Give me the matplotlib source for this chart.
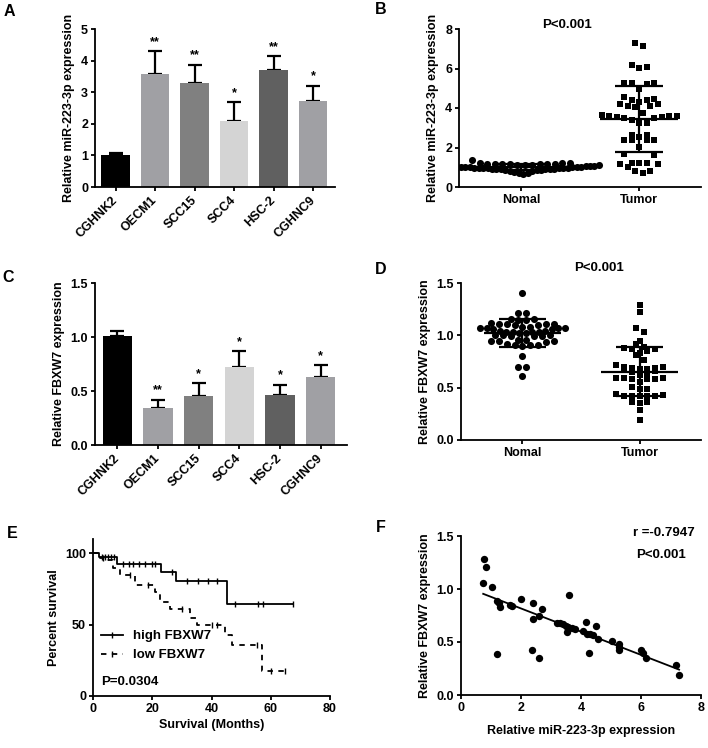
import numpy as np
import matplotlib
matplotlib.use("Agg")
import matplotlib.pyplot as plt
from matplotlib.lines import Line2D

# ---- data ----
cell_lines = ["CGHNK2", "OECM1", "SCC15", "SCC4", "HSC-2", "CGHNC9"]
bar_colors = ["#000000", "#a0a0a4", "#808080", "#d4d4d4", "#606060", "#a0a0a4"]
mir_mean = [1.02, 3.57, 3.29, 2.10, 3.70, 2.73]
mir_err = [0.05, 0.72, 0.58, 0.58, 0.44, 0.48]
mir_sig = ["", "**", "**", "*", "**", "*"]
fbx_mean = [1.01, 0.34, 0.45, 0.72, 0.46, 0.63]
fbx_err = [0.05, 0.08, 0.12, 0.15, 0.10, 0.11]
fbx_sig = ["", "**", "*", "*", "*", "*"]

groups = ["Nomal", "Tumor"]
mir_normal = [1.39, 1.21, 1.20, 1.19, 1.18, 1.18, 1.17, 1.16, 1.16, 1.15, 1.14, 1.13,
              1.12, 1.11, 1.10, 1.10, 1.08, 1.07, 1.06, 1.05, 1.05, 1.04, 1.03, 1.02,
              1.01, 1.00, 1.00, 0.99, 0.98, 0.97, 0.97, 0.96, 0.95, 0.95, 0.94, 0.93,
              0.92, 0.92, 0.91, 0.90, 0.89, 0.88, 0.87, 0.85, 0.83, 0.80, 0.77, 0.73,
              0.69, 0.65]
mir_tumor = [7.29, 7.15, 6.17, 6.03, 6.07, 5.29, 5.22, 4.95, 5.29, 5.29, 4.58, 4.20,
             4.40, 4.10, 4.40, 4.07, 4.32, 4.10, 4.46, 4.20, 3.64, 3.59, 3.56, 3.47,
             3.39, 3.76, 3.22, 3.25, 3.47, 3.56, 3.59, 3.59, 2.54, 2.37, 2.37, 2.63,
             2.37, 2.63, 2.37, 2.03, 1.61, 1.66, 1.15, 1.24, 1.24, 1.24, 1.02, 1.15,
             0.80, 0.73, 0.80]
fbx_normal = [1.40, 1.21, 1.21, 1.16, 1.16, 1.15, 1.15, 1.11, 1.11, 1.10, 1.11, 1.12,
              1.11, 1.10, 1.07, 1.07, 1.06, 1.08, 1.07, 1.06, 1.07, 1.08, 1.03, 1.03,
              1.02, 1.04, 1.03, 1.03, 1.02, 1.04, 0.99, 1.00, 0.99, 1.00, 0.99, 1.00,
              0.95, 0.96, 0.95, 0.94, 0.95, 0.96, 0.91, 0.91, 0.90, 0.92, 0.91, 0.80,
              0.70, 0.70, 0.61]
fbx_tumor = [1.29, 1.22, 1.07, 1.03, 0.95, 0.89, 0.87, 0.85, 0.83, 0.81, 0.88, 0.92,
             0.76, 0.72, 0.70, 0.69, 0.68, 0.66, 0.65, 0.67, 0.68, 0.70, 0.69, 0.59,
             0.58, 0.58, 0.55, 0.51, 0.58, 0.59, 0.59, 0.49, 0.49, 0.44, 0.42, 0.42,
             0.43, 0.42, 0.42, 0.42, 0.35, 0.36, 0.36, 0.29, 0.19, 0.62, 0.64, 0.87]

high_t = [0, 2.1, 8.2, 23.1, 28.0, 45.1]
high_s = [100, 97.4, 92.8, 86.9, 80.6, 64.8]
high_end = 67.6
high_cens = [3, 4, 5, 6, 7, 10.2, 12.3, 13.6, 15.6, 17.5, 19.8, 20.9, 26.6,
             31.6, 35.5, 38.9, 41.8, 47.9, 55.8, 57.5, 67.6]
low_t = [0, 2.4, 4.6, 6.9, 9.1, 14.2, 20.9, 22.6, 26.0, 32.7, 35.0, 44.6, 46.8, 56.9]
low_s = [100, 97.0, 95.0, 90.0, 84.6, 77.6, 72.9, 66.0, 61.3, 54.3, 49.6, 42.7, 35.7, 17.7]
low_end = 64.8
low_cens = [3.5, 12.5, 18.5, 30, 40, 42, 55.5, 60, 64.8]

f_mir = [0.78, 0.82, 0.74, 1.02, 1.21, 1.28, 1.30, 1.19, 1.63, 1.71, 2.00, 2.41, 2.39,
         2.61, 2.70, 2.38, 2.60, 3.21, 3.30, 3.41, 3.50, 3.60, 3.58, 3.54, 3.69, 3.80,
         4.08, 4.17, 4.21, 4.30, 4.41, 4.28, 4.50, 4.58, 5.02, 5.28, 5.28, 5.28, 5.99,
         6.08, 6.17, 7.16, 7.27]
f_fbx = [1.28, 1.21, 1.06, 1.02, 0.89, 0.87, 0.83, 0.39, 0.85, 0.84, 0.91, 0.87, 0.72,
         0.75, 0.81, 0.42, 0.35, 0.68, 0.68, 0.67, 0.65, 0.94, 0.64, 0.59, 0.63, 0.62,
         0.60, 0.69, 0.58, 0.58, 0.57, 0.40, 0.65, 0.53, 0.51, 0.48, 0.45, 0.42, 0.42,
         0.40, 0.35, 0.28, 0.19]

# ---- style ----
plt.rcParams['font.family'] = ['Liberation Sans', 'DejaVu Sans']
plt.rcParams['font.weight'] = 'bold'
plt.rcParams['font.size'] = 9
plt.rcParams['axes.labelweight'] = 'bold'
plt.rcParams['axes.linewidth'] = 1.3
for ax_ in ['xtick', 'ytick']:
    plt.rcParams[ax_ + '.major.width'] = 1.3
    plt.rcParams[ax_ + '.major.size'] = 3
    plt.rcParams[ax_ + '.major.pad'] = 2
    plt.rcParams[ax_ + '.labelsize'] = 9

W, H = 708, 748
fig = plt.figure(figsize=(W / 100, H / 100), dpi=100)


def box(l, t, r, b):
    return [l / W, 1 - b / H, (r - l) / W, (b - t) / H]


def clean(ax):
    ax.spines['top'].set_visible(False)
    ax.spines['right'].set_visible(False)


def column_scatter(values, ysc, xsc, row_h, dx, max_half):
    # GraphPad-like rows: group sorted values into rows, spread each row center-out
    vals = np.asarray(values)
    order = np.argsort(vals)
    offs = np.zeros(len(vals))
    rows, cur, start = [], [], None
    for i in order:
        if cur and (vals[i] - start) * ysc > row_h:
            rows.append(cur)
            cur = []
        if not cur:
            start = vals[i]
        cur.append(i)
    rows.append(cur)
    for row in rows:
        n = len(row)
        step = dx / xsc
        if (n - 1) / 2 * step > max_half:
            step = 2 * max_half / (n - 1)
        slots = sorted(np.arange(n) - (n - 1) / 2, key=lambda s: (abs(s), -s))
        for i, s in zip(row, slots):
            offs[i] = s * step
    return offs


def bar_panel(ax, means, errs, sigs, ylim, yticks, ylabel, xlim):
    x = np.arange(len(cell_lines))
    ax.bar(x, means, width=0.72, color=bar_colors, zorder=2)
    ax.errorbar(x, means, yerr=[np.zeros(len(errs)), errs], fmt='none',
                ecolor='k', elinewidth=1.6, capsize=5, capthick=1.6, zorder=1)
    for xi, m, e, s in zip(x, means, errs, sigs):
        ax.text(xi, m + e + ylim[1] * 0.02, s, ha='center', va='bottom', fontsize=9)
    ax.set_xlim(*xlim)
    ax.set_ylim(*ylim)
    ax.set_yticks(yticks)
    ax.set_xticks(x)
    ax.set_xticklabels(cell_lines, rotation=45, ha='right', va='center',
                       rotation_mode='anchor')
    ax.tick_params(axis='x', pad=5)
    ax.set_ylabel(ylabel)
    clean(ax)


def dot_panel(ax, normal, tumor, ysc, ylim, yticks, ylabel, row_h, dx, widths):
    xsc = 118
    for xi, vals, mk, mh in [(0, normal, 'o', widths[0]), (1, tumor, 's', widths[1])]:
        offs = column_scatter(vals, ysc, xsc, row_h, dx, mh)
        ax.scatter(xi + offs, vals, marker=mk, s=22 if mk == 's' else 26,
                   color='k', linewidths=0, zorder=2)
        m = np.mean(vals)
        sd = np.std(vals, ddof=1)
        ax.hlines(m, xi - 0.33, xi + 0.33, color='k', lw=1.6, zorder=3)
        ax.hlines([m - sd, m + sd], xi - 0.2, xi + 0.2, color='k', lw=1.6, zorder=3)
        ax.vlines(xi, m - sd, m + sd, color='k', lw=1.6, zorder=3)
    ax.set_xlim(-0.525, 1.525)
    ax.set_ylim(*ylim)
    ax.set_yticks(yticks)
    ax.set_xticks([0, 1])
    ax.set_xticklabels(groups)
    ax.set_ylabel(ylabel)
    clean(ax)


# A
axA = fig.add_axes(box(95, 29, 335, 187))
bar_panel(axA, mir_mean, mir_err, mir_sig, (0, 5), [0, 1, 2, 3, 4, 5],
          "Relative miR-223-3p expression", (-0.52, 5.55))

# B
axB = fig.add_axes(box(459, 29, 701, 187))
dot_panel(axB, mir_normal, mir_tumor, 158 / 8, (0, 8), [0, 2, 4, 6, 8],
          "Relative miR-223-3p expression", 9, 7.5, (0.66, 0.36))
axB.text(0.446, 1.025, "P<0.001", transform=axB.transAxes, ha='center', va='center', fontsize=9.5)

# C
axC = fig.add_axes(box(95, 283, 347, 445))
bar_panel(axC, fbx_mean, fbx_err, fbx_sig, (0, 1.5), [0.0, 0.5, 1.0, 1.5],
          "Relative FBXW7 expression", (-0.55, 5.65))
axC.set_yticklabels(["0.0", "0.5", "1.0", "1.5"])

# D
axD = fig.add_axes(box(461, 283, 701, 440))
dot_panel(axD, fbx_normal, fbx_tumor, 157 / 1.5, (0, 1.5), [0.0, 0.5, 1.0, 1.5],
          "Relative FBXW7 expression", 6, 8, (0.36, 0.34))
axD.set_yticklabels(["0.0", "0.5", "1.0", "1.5"])
axD.text(0.575, 1.095, "P<0.001", transform=axD.transAxes, ha='center', va='center', fontsize=9.5)

# E
axE = fig.add_axes(box(93, 539, 330, 696))
ht = np.append(high_t, high_end)
hs = np.append(high_s, high_s[-1])
lt = np.append(low_t, low_end)
ls_ = np.append(low_s, low_s[-1])
axE.step(ht, hs, where='post', color='k', lw=1.3)
axE.step(lt, ls_, where='post', color='k', lw=1.3, ls=(0, (3, 3)))
hc = np.array(high_s)[np.searchsorted(high_t, high_cens, side='right') - 1]
lc = np.array(low_s)[np.searchsorted(low_t, low_cens, side='right') - 1]
axE.scatter(high_cens, hc, marker='|', s=18, color='k', linewidths=1)
axE.scatter(low_cens, lc, marker='|', s=14, color='k', linewidths=1)
axE.set_xlim(0, 80)
axE.set_ylim(0, 110)
axE.set_xticks([0, 20, 40, 60, 80])
axE.set_yticks([0, 50, 100])
axE.set_xlabel("Survival (Months)", labelpad=3)
axE.set_ylabel("Percent survival")
handles = [Line2D([], [], color='k', lw=1.3, marker='|', ms=5, mew=1),
           Line2D([], [], color='k', lw=1.3, ls=(0, (3, 3)), marker='|', ms=4, mew=1)]
axE.legend(handles, ["high FBXW7", "low FBXW7"], loc='upper left',
           bbox_to_anchor=(0.0, 0.47), frameon=False, handlelength=1.7,
           handletextpad=0.7, fontsize=9.5, labelspacing=0.5, borderaxespad=0.2)
axE.text(0.035, 0.09, "P=0.0304", transform=axE.transAxes, ha='left', va='center', fontsize=9.5)
clean(axE)

# F
axF = fig.add_axes(box(461, 536, 701, 695))
axF.scatter(f_mir, f_fbx, s=28, color='k', linewidths=0, zorder=2)
k, b = np.polyfit(f_mir, f_fbx, 1)
xs = np.array([min(f_mir), max(f_mir)])
axF.plot(xs, k * xs + b, color='k', lw=1.3)
axF.set_xlim(0, 8)
axF.set_ylim(0, 1.5)
axF.set_xticks([0, 2, 4, 6, 8])
axF.set_yticks([0.0, 0.5, 1.0, 1.5])
axF.set_yticklabels(["0.0", "0.5", "1.0", "1.5"])
axF.set_xlabel("Relative miR-223-3p expression", labelpad=8)
axF.set_ylabel("Relative FBXW7 expression")
axF.text(0.846, 1.02, "r =-0.7947", transform=axF.transAxes, ha='center', va='center', fontsize=9.5)
axF.text(0.833, 0.88, "P<0.001", transform=axF.transAxes, ha='center', va='center', fontsize=9.5)
clean(axF)

# panel letters
for lab, px, py in [("A", 9, 12), ("B", 381, 10), ("C", 8, 277),
                    ("D", 381, 270), ("E", 12, 534), ("F", 381, 527)]:
    fig.text(px / W, 1 - py / H, lab, fontsize=11.5, fontweight='bold',
             ha='center', va='center')

fig.savefig("out.png", dpi=100)
